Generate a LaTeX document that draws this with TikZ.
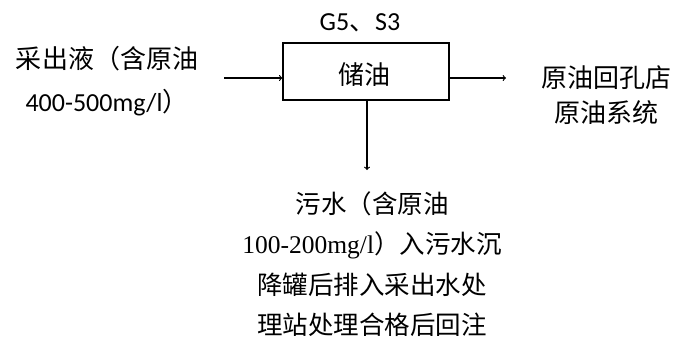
\documentclass[tikz,border=0pt]{standalone}
\usepackage{fontspec}
\setmainfont{Carlito}
\newfontfamily\cjk{Noto Sans CJK SC}
\newfontfamily\tnr{Liberation Serif}
\tikzset{
  every node/.style={inner sep=0pt},
  tankbox/.style={draw,line width=1.2pt,minimum width=166pt,minimum height=57pt},
  flow/.style={->,line width=1.2pt},
}
\begin{document}
\begin{tikzpicture}[x=1pt,y=-1pt]
      \useasboundingbox (0,0) rectangle (676,338);
      \draw
        (366,71.5) node[tankbox] (tank){}
        (364,75) node[font=\fontsize{26}{30}\selectfont\cjk] (tanktxt){储油}
        (360,23) node[font=\fontsize{26}{30}\selectfont] (gs){G5{\cjk 、}S3}
        (107,81) node[align=center,font=\fontsize{26}{43}\selectfont\cjk] (feed){采出液（含原油\\{\rmfamily 400-500mg/l}）}
        (606,95) node[align=center,font=\fontsize{26}{35}\selectfont\cjk] (crude){原油回孔店\\原油系统}
        (372,264) node[align=center,font=\fontsize{25.5}{40.5}\selectfont\cjk] (sewage){污水（含原油\\{\tnr 100-200mg/l}）入污水沉\\降罐后排入采出水处\\理站处理合格后回注};
      \coordinate (in) at (224,78);
      \coordinate (out) at (506,78);
      \coordinate (down) at (367,170);
      \begin{scope}[flow]
        \draw (in) to (in -| tank.west);
        \draw (out -| tank.east) to (out);
        \draw (down |- tank.south) to (down);
      \end{scope}
    \end{tikzpicture}
\end{document}
